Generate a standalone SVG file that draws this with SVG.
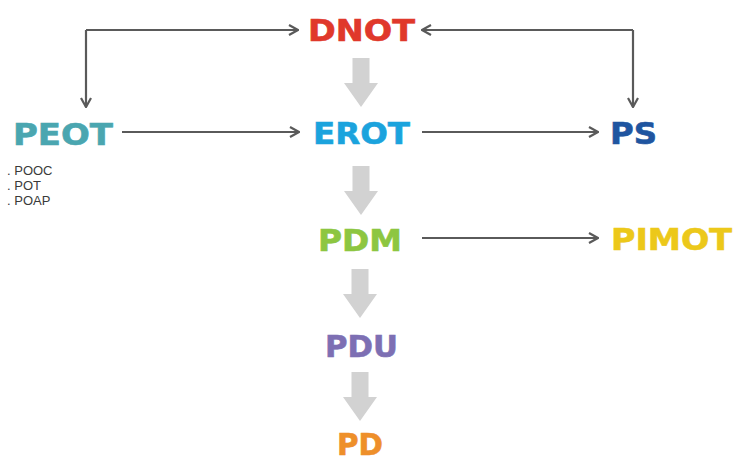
<svg xmlns="http://www.w3.org/2000/svg" width="734" height="462" viewBox="0 0 734 462">
<defs>
<style>
.lbl{font-family:"DejaVu Sans","Liberation Sans",sans-serif;font-weight:bold;font-size:30px;stroke-width:0.6}
.sub{font-family:"Liberation Sans",Arial,sans-serif;font-size:13px;fill:#3a3a3a}
.con{fill:none;stroke:#5a5a5a;stroke-width:2.2}
.blk{fill:#d2d2d2}
</style>
<marker id="ah" viewBox="0 0 12 12" refX="11" refY="6" markerWidth="12" markerHeight="12" markerUnits="userSpaceOnUse" orient="auto">
<path d="M2,1 L11,6 L2,11" fill="none" stroke="#5a5a5a" stroke-width="2.2"/>
</marker>
<path id="bigarrow" d="M-8.5,0 H8.5 V25 H17 L0,49 L-17,25 H-8.5 Z"/>
</defs>
<rect width="734" height="462" fill="#fff"/>
<g id="connectors">
<path class="con" d="M86,30 H298" marker-end="url(#ah)"/>
<path class="con" d="M86,30 V107" marker-end="url(#ah)"/>
<path class="con" d="M633,30 H422" marker-end="url(#ah)"/>
<path class="con" d="M633,30 V107" marker-end="url(#ah)"/>
<path class="con" d="M122,132 H299" marker-end="url(#ah)"/>
<path class="con" d="M422,132 H598" marker-end="url(#ah)"/>
<path class="con" d="M422,238 H598" marker-end="url(#ah)"/>
<use href="#bigarrow" class="blk" x="361" y="58"/>
<use href="#bigarrow" class="blk" x="361" y="166"/>
<use href="#bigarrow" class="blk" x="360" y="269"/>
<use href="#bigarrow" class="blk" x="360" y="372"/>
</g>
<g id="DNOT"><text class="lbl" x="308" y="41" fill="#e0382b" stroke="#e0382b" textLength="107" lengthAdjust="spacingAndGlyphs">DNOT</text></g>
<g id="PEOT"><text class="lbl" x="13" y="145" fill="#4aa6b0" stroke="#4aa6b0" textLength="100" lengthAdjust="spacingAndGlyphs">PEOT</text>
<text class="sub" x="7" y="175">. POOC</text>
<text class="sub" x="7" y="190">. POT</text>
<text class="sub" x="7" y="205">. POAP</text></g>
<g id="EROT"><text class="lbl" x="313" y="144" fill="#1ba3dd" stroke="#1ba3dd" textLength="97" lengthAdjust="spacingAndGlyphs">EROT</text></g>
<g id="PS"><text class="lbl" x="610" y="144" fill="#1f55a0" stroke="#1f55a0" textLength="47" lengthAdjust="spacingAndGlyphs">PS</text></g>
<g id="PDM"><text class="lbl" x="318" y="251" fill="#8dc641" stroke="#8dc641" textLength="84" lengthAdjust="spacingAndGlyphs">PDM</text></g>
<g id="PIMOT"><text class="lbl" x="611" y="250" fill="#ecc81a" stroke="#ecc81a" textLength="121" lengthAdjust="spacingAndGlyphs">PIMOT</text></g>
<g id="PDU"><text class="lbl" x="325" y="357" fill="#7d6fb3" stroke="#7d6fb3" textLength="73" lengthAdjust="spacingAndGlyphs">PDU</text></g>
<g id="PD"><text class="lbl" x="337" y="455" fill="#ee8f2a" stroke="#ee8f2a" textLength="46" lengthAdjust="spacingAndGlyphs">PD</text></g>
</svg>
